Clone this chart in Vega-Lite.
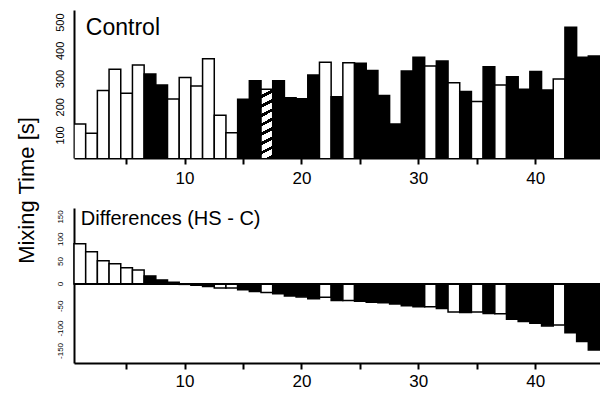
{
  "$schema": "https://vega.github.io/schema/vega-lite/v6.json",
  "padding": {"left": 15, "top": 10, "right": 0, "bottom": 0},
  "background": "white",
  "spacing": 50,
  "bounds": "flush",
  "config": {
    "view": {"stroke": null},
    "font": "Liberation Sans",
    "axis": {
      "domainColor": "black", "domainWidth": 2, "tickColor": "black", "tickWidth": 2,
      "labelColor": "black", "labelFont": "Liberation Sans", "grid": false,
      "titleColor": "black", "titleFont": "Liberation Sans", "titleFontWeight": "normal"
    }
  },
  "datasets": {
    "control": [
      {"n": 1, "v": 141, "g": "white"}, {"n": 2, "v": 108, "g": "white"}, {"n": 3, "v": 259, "g": "white"},
      {"n": 4, "v": 335, "g": "white"}, {"n": 5, "v": 250, "g": "white"}, {"n": 6, "v": 350, "g": "white"},
      {"n": 7, "v": 318, "g": "black"}, {"n": 8, "v": 279, "g": "black"}, {"n": 9, "v": 229, "g": "white"},
      {"n": 10, "v": 306, "g": "white"}, {"n": 11, "v": 275, "g": "white"}, {"n": 12, "v": 372, "g": "white"},
      {"n": 13, "v": 172, "g": "white"}, {"n": 14, "v": 110, "g": "white"}, {"n": 15, "v": 228, "g": "black"},
      {"n": 16, "v": 294, "g": "black"}, {"n": 17, "v": 264, "g": "hatched"}, {"n": 18, "v": 294, "g": "black"},
      {"n": 19, "v": 234, "g": "black"}, {"n": 20, "v": 230, "g": "black"}, {"n": 21, "v": 314, "g": "black"},
      {"n": 22, "v": 360, "g": "white"}, {"n": 23, "v": 237, "g": "black"}, {"n": 24, "v": 358, "g": "white"},
      {"n": 25, "v": 356, "g": "black"}, {"n": 26, "v": 330, "g": "black"}, {"n": 27, "v": 242, "g": "black"},
      {"n": 28, "v": 141, "g": "black"}, {"n": 29, "v": 329, "g": "black"}, {"n": 30, "v": 377, "g": "black"},
      {"n": 31, "v": 346, "g": "white"}, {"n": 32, "v": 364, "g": "black"}, {"n": 33, "v": 287, "g": "white"},
      {"n": 34, "v": 256, "g": "black"}, {"n": 35, "v": 220, "g": "white"}, {"n": 36, "v": 344, "g": "black"},
      {"n": 37, "v": 279, "g": "white"}, {"n": 38, "v": 308, "g": "black"}, {"n": 39, "v": 264, "g": "black"},
      {"n": 40, "v": 327, "g": "black"}, {"n": 41, "v": 261, "g": "black"}, {"n": 42, "v": 300, "g": "white"},
      {"n": 43, "v": 484, "g": "black"}, {"n": 44, "v": 377, "g": "black"}, {"n": 45, "v": 382, "g": "black"}
    ],
    "diff": [
      {"n": 1, "d": 90, "g": "white"}, {"n": 2, "d": 72, "g": "white"}, {"n": 3, "d": 52, "g": "white"},
      {"n": 4, "d": 45, "g": "white"}, {"n": 5, "d": 36, "g": "white"}, {"n": 6, "d": 31, "g": "white"},
      {"n": 7, "d": 18, "g": "black"}, {"n": 8, "d": 9, "g": "black"}, {"n": 9, "d": 4, "g": "black"},
      {"n": 10, "d": -1, "g": "black"}, {"n": 11, "d": -3, "g": "black"}, {"n": 12, "d": -6, "g": "black"},
      {"n": 13, "d": -9, "g": "white"}, {"n": 14, "d": -9, "g": "white"}, {"n": 15, "d": -13, "g": "black"},
      {"n": 16, "d": -17, "g": "black"}, {"n": 17, "d": -19, "g": "white"}, {"n": 18, "d": -22, "g": "black"},
      {"n": 19, "d": -27, "g": "black"}, {"n": 20, "d": -29, "g": "black"}, {"n": 21, "d": -33, "g": "black"},
      {"n": 22, "d": -30, "g": "white"}, {"n": 23, "d": -37, "g": "black"}, {"n": 24, "d": -37, "g": "white"},
      {"n": 25, "d": -39, "g": "black"}, {"n": 26, "d": -41, "g": "black"}, {"n": 27, "d": -42, "g": "black"},
      {"n": 28, "d": -45, "g": "black"}, {"n": 29, "d": -49, "g": "black"}, {"n": 30, "d": -51, "g": "black"},
      {"n": 31, "d": -51, "g": "white"}, {"n": 32, "d": -55, "g": "black"}, {"n": 33, "d": -63, "g": "white"},
      {"n": 34, "d": -64, "g": "black"}, {"n": 35, "d": -63, "g": "white"}, {"n": 36, "d": -66, "g": "black"},
      {"n": 37, "d": -67, "g": "white"}, {"n": 38, "d": -79, "g": "black"}, {"n": 39, "d": -84, "g": "black"},
      {"n": 40, "d": -88, "g": "black"}, {"n": 41, "d": -94, "g": "black"}, {"n": 42, "d": -92, "g": "white"},
      {"n": 43, "d": -109, "g": "black"}, {"n": 44, "d": -129, "g": "black"}, {"n": 45, "d": -148, "g": "black"}
    ],
    "labels1": [{"label": "Control"}],
    "labels2": [{"label": "Differences (HS - C)"}],
    "ticks1": [{"t": 100}, {"t": 200}, {"t": 300}, {"t": 400}, {"t": 500}],
    "ticks2": [{"t": -150}, {"t": -100}, {"t": -50}, {"t": 0}, {"t": 50}, {"t": 100}, {"t": 150}]
  },
  "vconcat": [
    {
      "width": 526,
      "height": 148,
      "layer": [
        {
          "data": {"name": "control"},
          "transform": [{"filter": "datum.g !== 'hatched'"}],
          "mark": {"type": "bar", "stroke": "black", "strokeWidth": 1.5, "clip": true},
          "encoding": {
            "x": {"field": "n", "type": "ordinal", "scale": {"paddingInner": 0, "paddingOuter": 0},
              "axis": {"values": [5, 10, 15, 20, 25, 30, 35, 40], "labelExpr": "datum.value % 10 === 0 ? datum.label : ''", "labelAngle": 0, "labelFontSize": 17, "tickSize": 6, "labelPadding": 6, "title": null}},
            "y": {"field": "v", "type": "quantitative", "scale": {"domain": [20, 545], "zero": false, "nice": false},
              "axis": {"values": [100, 200, 300, 400, 500], "labels": false, "ticks": false,
                "title": "Mixing Time [s]", "titleFontSize": 22, "titleX": -48, "titleY": 180, "titleAngle": -90, "titleAlign": "center", "titleBaseline": "middle"}},
            "fill": {"field": "g", "type": "nominal", "scale": {"domain": ["white", "black"], "range": ["white", "black"]}, "legend": null}
          }
        },
        {
          "data": {"name": "control"},
          "transform": [{"filter": "datum.g === 'hatched'"}],
          "mark": {"type": "bar", "stroke": "black", "strokeWidth": 1.5, "clip": true,
            "fill": {"gradient": "linear", "x1": 0, "y1": 0, "x2": 0.08, "y2": 1, "stops": [
              {"offset": 0, "color": "white"}, {"offset": 0.08, "color": "white"}, {"offset": 0.08, "color": "black"}, {"offset": 0.125, "color": "black"},
              {"offset": 0.125, "color": "white"}, {"offset": 0.205, "color": "white"}, {"offset": 0.205, "color": "black"}, {"offset": 0.25, "color": "black"},
              {"offset": 0.25, "color": "white"}, {"offset": 0.33, "color": "white"}, {"offset": 0.33, "color": "black"}, {"offset": 0.375, "color": "black"},
              {"offset": 0.375, "color": "white"}, {"offset": 0.455, "color": "white"}, {"offset": 0.455, "color": "black"}, {"offset": 0.5, "color": "black"},
              {"offset": 0.5, "color": "white"}, {"offset": 0.58, "color": "white"}, {"offset": 0.58, "color": "black"}, {"offset": 0.625, "color": "black"},
              {"offset": 0.625, "color": "white"}, {"offset": 0.705, "color": "white"}, {"offset": 0.705, "color": "black"}, {"offset": 0.75, "color": "black"},
              {"offset": 0.75, "color": "white"}, {"offset": 0.83, "color": "white"}, {"offset": 0.83, "color": "black"}, {"offset": 0.875, "color": "black"},
              {"offset": 0.875, "color": "white"}, {"offset": 0.955, "color": "white"}, {"offset": 0.955, "color": "black"}, {"offset": 1, "color": "black"}
            ]}},
          "encoding": {
            "x": {"field": "n", "type": "ordinal"},
            "y": {"field": "v", "type": "quantitative"}
          }
        },
        {
          "data": {"name": "ticks1"},
          "mark": {"type": "text", "angle": 270, "align": "center", "baseline": "bottom", "dy": -8, "fontSize": 11, "font": "Liberation Sans", "color": "black"},
          "encoding": {
            "x": {"datum": 1, "type": "ordinal", "bandPosition": 0},
            "y": {"field": "t", "type": "quantitative"},
            "text": {"field": "t"}
          }
        },
        {
          "data": {"name": "labels1"},
          "mark": {"type": "text", "align": "left", "baseline": "alphabetic", "fontSize": 23, "font": "Liberation Sans", "color": "black", "dx": 6},
          "encoding": {
            "x": {"datum": 1, "type": "ordinal"},
            "y": {"datum": 456, "type": "quantitative"},
            "text": {"field": "label"}
          }
        }
      ]
    },
    {
      "width": 526,
      "height": 155,
      "layer": [
        {
          "data": {"name": "diff"},
          "mark": {"type": "bar", "stroke": "black", "strokeWidth": 1.5},
          "encoding": {
            "x": {"field": "n", "type": "ordinal", "scale": {"paddingInner": 0, "paddingOuter": 0},
              "axis": {"values": [5, 10, 15, 20, 25, 30, 35, 40], "labelExpr": "datum.value % 10 === 0 ? datum.label : ''", "labelAngle": 0, "labelFontSize": 17, "tickSize": 6, "labelPadding": 4, "title": null}},
            "y": {"field": "d", "type": "quantitative", "scale": {"domain": [-177, 170], "nice": false},
              "axis": {"values": [-150, -100, -50, 0, 50, 100, 150], "labels": false, "ticks": false, "title": null}},
            "fill": {"field": "g", "type": "nominal", "scale": {"domain": ["white", "black"], "range": ["white", "black"]}, "legend": null}
          }
        },
        {
          "data": {"name": "diff"},
          "mark": {"type": "rule", "color": "black", "strokeWidth": 2},
          "encoding": {"y": {"datum": 0}}
        },
        {
          "data": {"name": "ticks2"},
          "mark": {"type": "text", "angle": 270, "align": "center", "baseline": "bottom", "dy": -9, "fontSize": 8, "font": "Liberation Sans", "color": "black"},
          "encoding": {
            "x": {"datum": 1, "type": "ordinal", "bandPosition": 0},
            "y": {"field": "t", "type": "quantitative"},
            "text": {"field": "t"}
          }
        },
        {
          "data": {"name": "labels2"},
          "mark": {"type": "text", "align": "left", "baseline": "alphabetic", "fontSize": 20, "font": "Liberation Sans", "color": "black", "dx": 1},
          "encoding": {
            "x": {"datum": 1, "type": "ordinal"},
            "y": {"datum": 132, "type": "quantitative"},
            "text": {"field": "label"}
          }
        }
      ]
    }
  ]
}
